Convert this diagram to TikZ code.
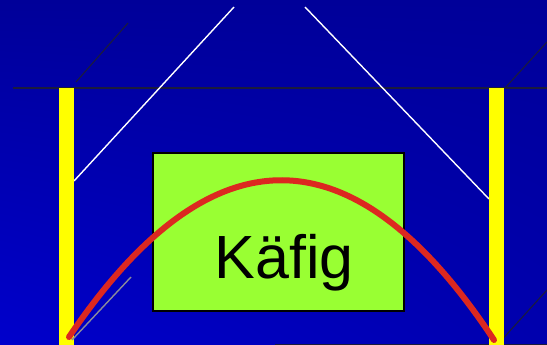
\documentclass[tikz,border=0pt]{standalone}
\usepackage{fontspec}
\setmainfont{Liberation Sans}
\usetikzlibrary{positioning,shadings}
\definecolor{sky}{HTML}{000099}
\definecolor{skylow}{HTML}{0000CC}
\definecolor{skylowr}{HTML}{0000AE}
\definecolor{bar}{HTML}{FFFF00}
\definecolor{lime}{HTML}{99FF33}
\definecolor{arc}{HTML}{DC2820}
\definecolor{shadow}{HTML}{1C1C3C}
\definecolor{ghost}{HTML}{8A8A9A}
\tikzset{
  post/.style ={fill=bar, draw=none},
  cage/.style ={draw=black, line width=1.6pt, fill=lime, minimum width=251pt, minimum height=158pt, inner sep=0pt},
  word/.style ={font=\fontsize{61}{61}\selectfont, text=black, inner sep=0pt},
  wire/.style ={draw=white, line width=1.4pt},
  dk/.style   ={draw=shadow, line width=1.1pt},
  throw/.style={draw=arc, line width=6pt, line cap=round},
  gh/.style   ={draw=ghost, line width=1.4pt},
}

\begin{document}
\begin{tikzpicture}[x=1pt,y=-1pt]
    \useasboundingbox (0,0) rectangle (547,345);
    \shade[upper left=sky, upper right=sky, lower left=skylow, lower right=skylowr] (0,0) rectangle (547,345);
    \draw[dk, line width=1.5pt] (13,88) -- (547,88);
    \draw[dk] (76,82) -- (128,23);
    \draw[dk] (505,88) -- (547,42);
    \draw[dk] (498,344) -- (547,290);
    \draw[dk] (275,344.5) -- (547,344.5);
    \draw[wire] (234,7) -- (74,181);
    \draw[wire] (305,7) -- (489,199);
    \fill[post] (59,88) rectangle (74,345);
    \fill[post] (489,88) rectangle (504,345);
    \node[cage] (box) at (278.5,232) {};
    \node[word, anchor=base] (name) at (284,278) {Käfig};
    \draw[gh] (72,340) -- (131,277);
    \draw[throw] (69,337) .. controls (211,127) and (354,128) .. (494,340);
  \end{tikzpicture}
\end{document}
